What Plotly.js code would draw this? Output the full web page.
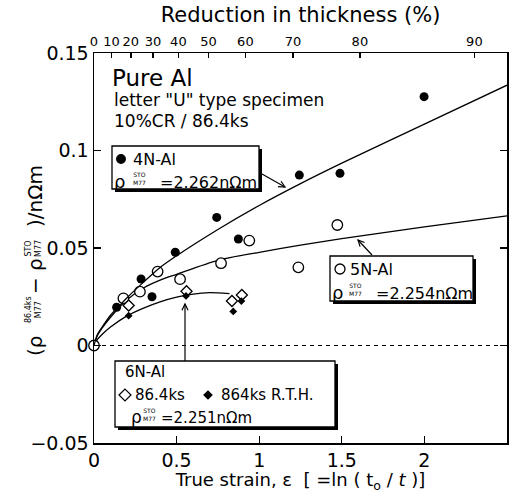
<!DOCTYPE html>
<html>
<head>
<meta charset="utf-8">
<script src="https://cdn.plot.ly/plotly-3.0.1.min.js"></script>
<style>
  html, body { margin: 0; padding: 0; background: #fff; }
  #chart { width: 520px; height: 493px; }
</style>
</head>
<body>
<div id="chart"></div>
<script>
// Excess resistivity of cold-rolled pure Al versus true strain

// 4N-Al measurements (filled circles)
const strain4N = [0.137, 0.285, 0.351, 0.492, 0.743, 0.874, 1.243, 1.489, 1.998];
const rho4N    = [0.0196, 0.0341, 0.0250, 0.0478, 0.0657, 0.0546, 0.0874, 0.0883, 0.1276];

// 5N-Al measurements (open circles)
const strain5N = [0, 0.178, 0.278, 0.385, 0.521, 0.769, 0.940, 1.237, 1.473];
const rho5N    = [0, 0.0242, 0.0276, 0.0379, 0.0340, 0.0422, 0.0538, 0.0401, 0.0618];

// 6N-Al, 86.4 ks (open diamonds) and 864 ks R.T.H. (filled diamonds)
const strain6N864 = [0.21, 0.56, 0.835, 0.895];
const rho6N864    = [0.0205, 0.0278, 0.0228, 0.0259];
const strain6N8640 = [0.21, 0.557, 0.843, 0.892];
const rho6N8640    = [0.0153, 0.0254, 0.0175, 0.0228];

// Hand-drawn trend curves
const fitStrain4N = [0, 0.02, 0.05, 0.1, 0.15, 0.2, 0.3, 0.4, 0.5, 0.75, 1.0, 1.25, 1.5, 2.0, 2.5];
const fitRho4N    = [0, 0.0055, 0.0095, 0.0155, 0.020, 0.0245, 0.0325, 0.040, 0.046, 0.0595, 0.0718, 0.083, 0.0935, 0.1135, 0.1335];
const fitStrain5N = [0, 0.02, 0.05, 0.1, 0.2, 0.3, 0.4, 0.5, 0.75, 1.0, 1.25, 1.5, 2.0, 2.5];
const fitRho5N    = [0, 0.005, 0.009, 0.0145, 0.0235, 0.0295, 0.0335, 0.0365, 0.0437, 0.0478, 0.0515, 0.0548, 0.0608, 0.0665];
const fitStrain6N = [0, 0.02, 0.05, 0.1, 0.2, 0.3, 0.4, 0.5, 0.6, 0.7, 0.82];
const fitRho6N    = [0, 0.003, 0.0058, 0.0095, 0.0152, 0.0192, 0.0224, 0.0248, 0.0264, 0.0271, 0.0266];

// Top axis: thickness reduction (%) placed at the equivalent true strain
const reductionPct = [0, 10, 20, 30, 40, 50, 60, 70, 80, 90];

// Box labels
const label4N = ['4N-Al', '=2.262n\u03A9m'];
const label5N = ['5N-Al', '=2.254n\u03A9m'];
const label6N = ['6N-Al', '86.4ks', '864ks R.T.H.', '=2.251n\u03A9m'];

const FONT = 'DejaVu Sans, Arial, sans-serif';
const M = { l: 94, r: 13, t: 53, b: 50 };
const PW = 520 - M.l - M.r, PH = 493 - M.t - M.b;
const fx = x => (x - M.l) / PW;
const fy = y => (M.t + PH - y) / PH;

const lineStyle = { color: '#000', width: 1.3, shape: 'spline', smoothing: 0.8 };
const traces = [
  // the 4N curve is drawn against the top axis, which shares the strain range
  { x: fitStrain4N, y: fitRho4N, xaxis: 'x2', mode: 'lines', line: lineStyle, name: '4N fit' },
  { x: fitStrain5N, y: fitRho5N, mode: 'lines', line: lineStyle, name: '5N fit' },
  { x: fitStrain6N, y: fitRho6N, mode: 'lines', line: lineStyle, name: '6N fit' },
  { x: strain4N, y: rho4N, mode: 'markers', name: '4N-Al',
    marker: { symbol: 'circle', size: 9, color: '#000' } },
  { x: strain5N, y: rho5N, mode: 'markers', name: '5N-Al', cliponaxis: false,
    marker: { symbol: 'circle', size: 10.5, color: '#fff', line: { color: '#000', width: 1.3 } } },
  { x: strain6N864, y: rho6N864, mode: 'markers', name: '6N-Al 86.4ks',
    marker: { symbol: 'diamond', size: 8.5, color: '#fff', line: { color: '#000', width: 1.3 } } },
  { x: strain6N8640, y: rho6N8640, mode: 'markers', name: '6N-Al 864ks',
    marker: { symbol: 'diamond', size: 6, color: '#000' } }
];

function txt(x, y, text, size, extra) {
  return Object.assign({ xref: 'paper', yref: 'paper', x: fx(x), y: fy(y), text: text,
    showarrow: false, xanchor: 'left', yanchor: 'middle', borderpad: 0,
    font: { family: FONT, size: size, color: '#000' } }, extra || {});
}
function ctr(x, y, text, size, extra) {
  return txt(x, y, text, size, Object.assign({ xanchor: 'center' }, extra || {}));
}
// rho with stacked STO / M77 indices; y is the centre of the value text
function rhoStack(x, y, sx, size, small) {
  return [
    ctr(x, y - 1, '\u03C1', size),
    ctr(sx, y - 4, 'STO<br>M77', small)
  ];
}

const annotations = [
  txt(111, 78, 'Pure Al', 23),
  txt(113, 100, 'letter "U" type specimen', 17),
  txt(113, 121, '10%CR / 86.4ks', 17),

  // 4N box
  txt(132, 159, label4N[0], 16),
  ...rhoStack(119, 182, 139, 18, 6),
  txt(159, 182, label4N[1], 16),

  // 5N box
  txt(349, 269, label5N[0], 16),
  ...rhoStack(337, 293, 355, 18, 6),
  txt(375, 293, label5N[1], 16),

  // 6N box
  txt(124, 372, label6N[0], 15),
  txt(134, 395, label6N[1], 15),
  txt(220, 395, label6N[2], 15),
  ...rhoStack(136, 418, 149, 17, 6),
  txt(160, 418, label6N[3], 15),

  // y-axis title built from pieces so the indices can be stacked
  ctr(35, 346, '(\u03C1', 20, { textangle: -90 }),
  ctr(33, 310, '86.4ks<br>M77', 8, { textangle: -90 }),
  ctr(35, 276, '\u2212 \u03C1', 20, { textangle: -90 }),
  ctr(33, 249, 'STO<br>M77', 8, { textangle: -90 }),
  ctr(35, 196, ')/n\u03A9m', 20, { textangle: -90 })
];

function rect(x0, y0, x1, y1, fill, lw) {
  return { type: 'rect', xref: 'paper', yref: 'paper', layer: 'above',
    x0: fx(x0), x1: fx(x1), y0: fy(y1), y1: fy(y0),
    fillcolor: fill, line: { color: '#000', width: lw } };
}
function boxWithShadow(x0, y0, x1, y1) {
  return [rect(x0 + 3, y0 + 3, x1 + 3, y1 + 3, '#000', 0), rect(x0, y0, x1, y1, '#fff', 1.3)];
}
function dot(cx, cy, r, fill) {
  return { type: 'circle', xref: 'paper', yref: 'paper', layer: 'above',
    x0: fx(cx - r), x1: fx(cx + r), y0: fy(cy + r), y1: fy(cy - r),
    fillcolor: fill, line: { color: '#000', width: 1.3 } };
}
function pathShape(points, closed, fill) {
  const p = points.map((q, i) => (i ? 'L' : 'M') + fx(q[0]) + ',' + fy(q[1])).join('') + (closed ? 'Z' : '');
  return { type: 'path', xref: 'paper', yref: 'paper', layer: 'above', path: p,
    fillcolor: fill || 'rgba(0,0,0,0)', line: { color: '#000', width: 1.2 } };
}
function diamond(cx, cy, r, fill) {
  return pathShape([[cx - r, cy], [cx, cy - r], [cx + r, cy], [cx, cy + r]], true, fill);
}
// pointer from a label box (tail) to its curve (head), open chevron tip
function pointer(tx, ty, hx, hy) {
  const a = Math.atan2(hy - ty, hx - tx), L = 7, w = 0.45;
  const b1 = [hx - L * Math.cos(a - w), hy - L * Math.sin(a - w)];
  const b2 = [hx - L * Math.cos(a + w), hy - L * Math.sin(a + w)];
  return [pathShape([[tx, ty], [hx, hy]], false), pathShape([b1, [hx, hy], b2], false)];
}

const shapes = [
  // zero reference line
  { type: 'line', xref: 'x', yref: 'y', x0: 0, x1: 2.5, y0: 0, y1: 0, layer: 'below',
    line: { color: '#000', width: 1.2, dash: '4px,4px' } },
  ...boxWithShadow(112, 146, 259, 189),
  ...boxWithShadow(330, 256, 473, 301),
  ...boxWithShadow(115, 361, 335, 427),
  dot(121, 159, 4.3, '#000'),
  dot(340, 269, 5, '#fff'),
  diamond(125, 395, 6, '#fff'),
  diamond(208, 395, 4, '#000'),
  ...pointer(262, 174, 285, 187),
  ...pointer(372, 255, 358, 240),
  ...pointer(185, 361, 185, 304)
];

const axisCommon = {
  showgrid: false, zeroline: false, showline: true, linecolor: '#000', linewidth: 1.5,
  ticks: 'inside', tickcolor: '#000', tickwidth: 1.3, color: '#000'
};

const layout = {
  width: 520, height: 493,
  margin: M,
  paper_bgcolor: '#fff', plot_bgcolor: '#fff',
  showlegend: false,
  font: { family: FONT, color: '#000' },
  xaxis: Object.assign({}, axisCommon, {
    range: [0, 2.5], tickvals: [0, 0.5, 1, 1.5, 2, 2.5], ticklen: 7,
    tickfont: { size: 19 },
    title: { text: 'True strain, \u03B5  [ =ln ( t<sub>o</sub> / <i>t</i> )]', font: { size: 18 }, standoff: 2 }
  }),
  xaxis2: Object.assign({}, axisCommon, {
    overlaying: 'x', side: 'top', anchor: 'y', range: [0, 2.5],
    tickmode: 'array',
    tickvals: reductionPct.map(r => -Math.log(1 - r / 100)),
    ticktext: reductionPct.map(String),
    ticklen: 5, tickfont: { size: 13 },
    title: { text: 'Reduction in thickness (%)', font: { size: 21 }, standoff: 6 }
  }),
  yaxis: Object.assign({}, axisCommon, {
    range: [-0.05, 0.15], tickvals: [-0.05, 0, 0.05, 0.1, 0.15], ticklen: 7,
    mirror: 'ticks', tickfont: { size: 19 }
  }),
  shapes: shapes,
  annotations: annotations
};

Plotly.newPlot('chart', traces, layout, { displayModeBar: false, staticPlot: true });
</script>
</body>
</html>
